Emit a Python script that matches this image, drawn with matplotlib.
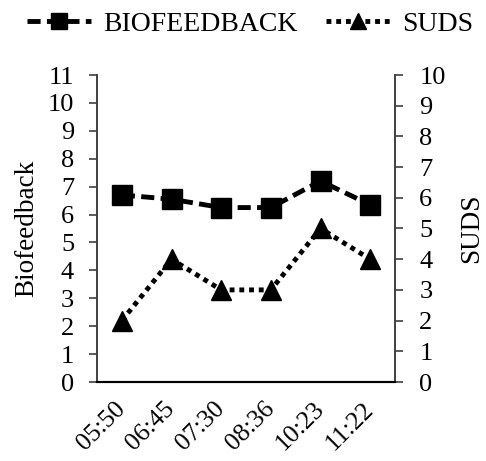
import matplotlib.pyplot as plt

plt.rcParams["font.family"] = ["Liberation Serif", "DejaVu Serif"]

times = ["05:50", "06:45", "07:30", "08:36", "10:23", "11:22"]
biofeedback = [6.7, 6.55, 6.25, 6.25, 7.2, 6.35]
suds = [2, 4, 3, 3, 5, 4]

fig = plt.figure(figsize=(4.86, 4.61), dpi=100)
ax = fig.add_axes([97 / 486, 1 - 382 / 461, 298 / 486, 307 / 461])
ax2 = ax.twinx()

x = list(range(len(times)))
(l1,) = ax.plot(x, biofeedback, color="black", lw=3.5, marker="s", ms=14,
                dashes=(2.7, 1.3), label="BIOFEEDBACK")
(l2,) = ax2.plot(x, suds, color="black", lw=3.5, marker="^", ms=14,
                 dashes=(1, 1), label="SUDS")

ax.set_xlim(-0.5, len(times) - 0.5)
ax.set_ylim(0, 11)
ax.set_yticks(range(0, 12))
ax2.set_ylim(0, 10)
ax2.set_yticks(range(0, 11))

ax.set_xticks(x)
ax.set_xticklabels(times, rotation=45, ha="right", va="center", rotation_mode="anchor")
ax.tick_params(axis="x", length=0, labelsize=18.5, pad=17)
ax.tick_params(axis="y", length=5.5, width=1.2, color="#404040", labelsize=19, pad=11)
ax2.tick_params(axis="y", length=5.5, width=1.2, color="#404040", labelsize=19, pad=12)

for a in (ax, ax2):
    a.spines["top"].set_visible(False)
    a.spines["left"].set_color("#404040")
    a.spines["right"].set_color("#404040")
    a.spines["left"].set_linewidth(1.2)
    a.spines["right"].set_linewidth(1.2)
    a.spines["bottom"].set_linewidth(1.5)

ax.set_ylabel("Biofeedback", fontsize=19.5, labelpad=6)
ax2.set_ylabel("SUDS", fontsize=19.5, labelpad=10)

fig.legend([l1, l2], ["BIOFEEDBACK", "SUDS"], loc="upper center",
           bbox_to_anchor=(0.515, 1.03), ncol=2, frameon=False, fontsize=20,
           handlelength=2.3, columnspacing=1.0, handletextpad=0.45,
           markerscale=0.8)

fig.savefig("out.png", dpi=100)
